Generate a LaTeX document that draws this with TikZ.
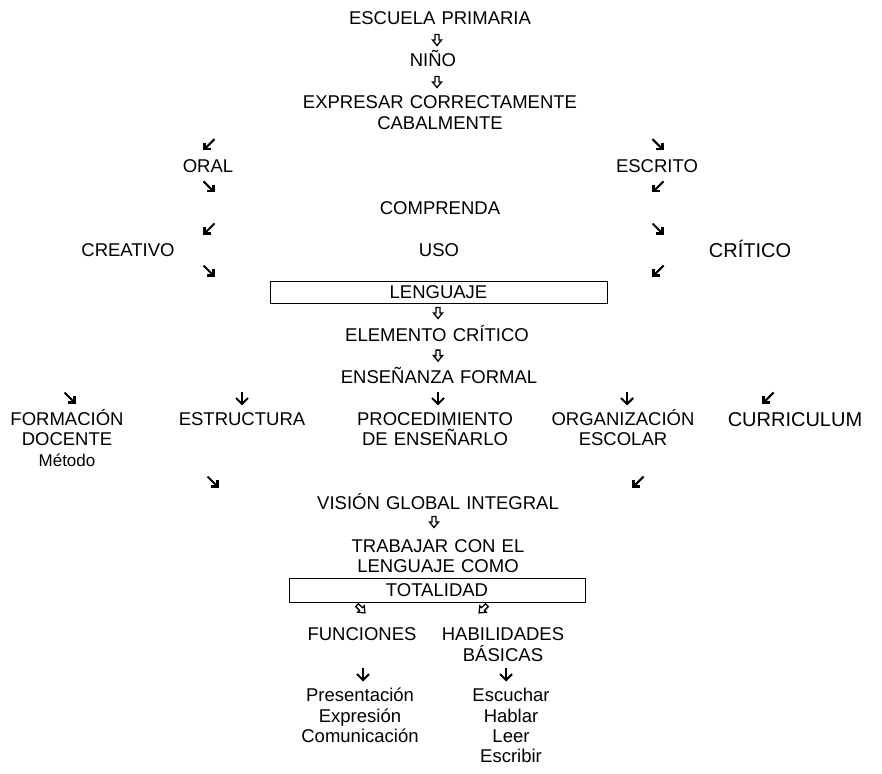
\documentclass[tikz,border=0pt]{standalone}
\usepackage{fontspec}
\setmainfont{Liberation Sans}
\usepackage{tikz}
\usetikzlibrary{positioning}

\newcommand{\diagfont}{\fontsize{18.5}{20.4}\selectfont}
\newcommand{\bigfnt}{\fontsize{20}{22}\selectfont}
\newcommand{\smallfnt}{\fontsize{17}{20.4}\selectfont}

\tikzset{
  glyphline/.style={line width=2.1pt},
  glyphsw/.pic={\draw[glyphline] (5.5,-5.5) -- (-4.5,4.5); \draw[glyphline] (-4.5,-2) -- (-4.5,4.5) -- (2,4.5);},
  glyphse/.pic={\draw[glyphline] (-5.5,-5.5) -- (4.5,4.5); \draw[glyphline] (4.5,-2) -- (4.5,4.5) -- (-2,4.5);},
  glyphdown/.pic={\draw[glyphline] (0,-6.5) -- (0,6); \draw[glyphline] (-6,0) -- (0,6) -- (6,0);},
  hollowdown/.pic={\draw[line width=1.3pt, line join=miter] (-2,-5.5) -- (2,-5.5) -- (2,0) -- (4.5,0) -- (0,5.5) -- (-4.5,0) -- (-2,0) -- cycle;},
}

\begin{document}
\begin{tikzpicture}[x=1pt,y=-1pt]
  \tikzstyle{txt} = [anchor=base, inner sep=0pt, font=\diagfont, text width=12cm, align=center];
  \tikzstyle{framed} = [draw, line width=1pt, inner sep=0pt, font=\diagfont,
    text height=13.25pt, text depth=0pt, anchor=center];
  \useasboundingbox[fill=white] (0,0) rectangle (882,773);

  % upper column
  \node[txt](escuela) at (440,24.6) {ESCUELA PRIMARIA};
  \pic (d1) at (437,40) {hollowdown};
  \node[txt](nino) at (433,66.8) {NIÑO};
  \pic (d2) at (437,82) {hollowdown};
  \node[txt](expresar) at (440,109) {EXPRESAR CORRECTAMENTE\\CABALMENTE};

  % oral / escrito branches
  \pic (o1) at (209,144.6) {glyphsw};
  \node[txt](oral) at (208,172.3) {ORAL};
  \pic (o2) at (209,186.8) {glyphse};
  \pic (e1) at (658,144.6) {glyphse};
  \node[txt](escrito) at (657,172.3) {ESCRITO};
  \pic (e2) at (658,186.8) {glyphsw};
  \node[txt](comprenda) at (440,214.5) {COMPRENDA};
  \pic (o3) at (209,229) {glyphsw};
  \pic (e3) at (658,229) {glyphse};
  \node[txt](creativo) at (128,256.7) {CREATIVO};
  \node[txt](uso) at (439,256.7) {USO};
  \node[txt, font=\bigfnt](critico) at (750,257.4) {CRÍTICO};
  \pic (o4) at (209,271) {glyphse};
  \pic (e4) at (658,271) {glyphsw};

  \node[framed, minimum width=337pt, minimum height=22pt](lenguaje) at (438.5,292.3) {LENGUAJE};
  \pic (d3) at (438,313) {hollowdown};
  \node[txt](elemento) at (437,341.1) {ELEMENTO CRÍTICO};
  \pic (d4) at (438,355.6) {hollowdown};
  \node[txt](ensenanza) at (439,383.3) {ENSEÑANZA FORMAL};

  % five items
  \pic (r1) at (70,398) {glyphse};
  \pic (r2) at (242,398) {glyphdown};
  \pic (r3) at (438,398) {glyphdown};
  \pic (r4) at (627,398) {glyphdown};
  \pic (r5) at (768,398) {glyphsw};
  \node[txt](formacion) at (67,425.5) {FORMACIÓN\\DOCENTE\\{\smallfnt Método}};
  \node[txt](estructura) at (242,425.5) {ESTRUCTURA};
  \node[txt](procedimiento) at (435,425.5) {PROCEDIMIENTO\\DE ENSEÑARLO};
  \node[txt](organizacion) at (623,425.5) {ORGANIZACIÓN\\ESCOLAR};
  \node[txt, font=\bigfnt](curriculum) at (795,426.2) {CURRICULUM};

  % lower column
  \pic (v1) at (213,482) {glyphse};
  \pic (v2) at (638,482) {glyphsw};
  \node[txt](vision) at (438,509.9) {VISIÓN GLOBAL INTEGRAL};
  \pic (d5) at (434,522) {hollowdown};
  \node[txt](trabajar) at (438,552.1) {TRABAJAR CON EL\\LENGUAJE COMO};
  \node[framed, minimum width=296pt, minimum height=24pt](totalidad) at (437,590) {TOTALIDAD};
  \pic[rotate=45] (t1) at (361,609) {hollowdown};
  \pic[rotate=-45] (t2) at (483,609) {hollowdown};
  \node[txt](funciones) at (362,640.6) {FUNCIONES};
  \node[txt](habilidades) at (503,640.6) {HABILIDADES\\BÁSICAS};
  \pic (f1) at (363,674) {glyphdown};
  \pic (h1) at (506,674) {glyphdown};
  \node[txt](presentacion) at (360,701.6) {Presentación\\Expresión\\Comunicación};
  \node[txt](escuchar) at (511,701.6) {Escuchar\\Hablar\\Leer\\Escribir};
\end{tikzpicture}
\end{document}
